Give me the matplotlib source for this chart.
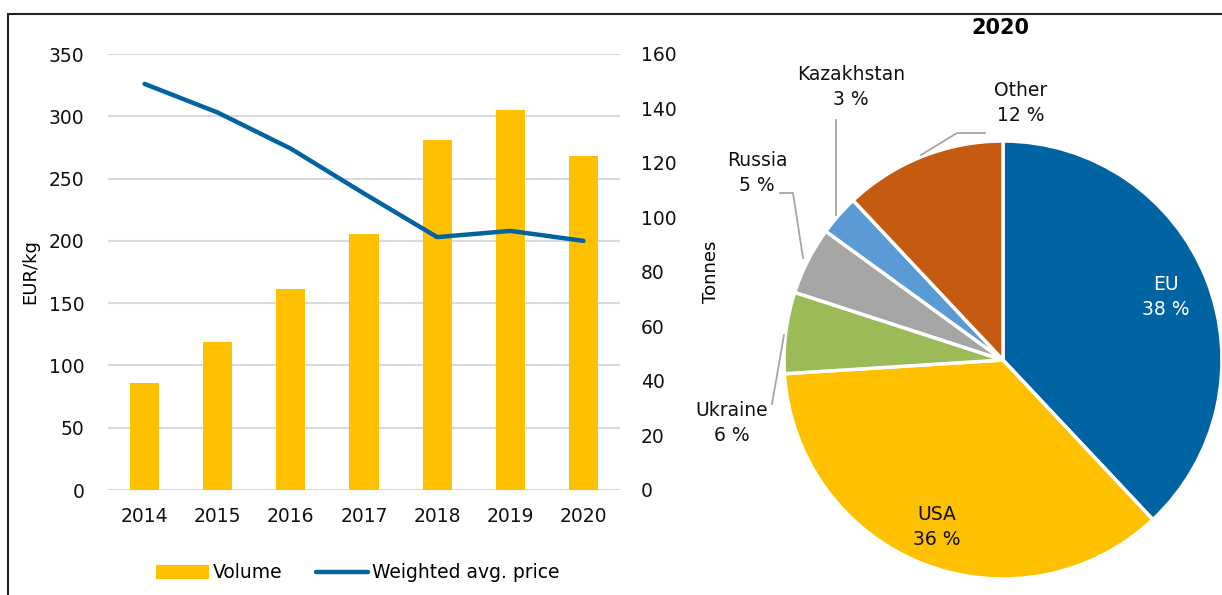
import matplotlib
matplotlib.use("Agg")
import matplotlib.pyplot as plt
from matplotlib.patches import Rectangle

plt.rcParams['font.family'] = ['DejaVu Sans']

# data
years = ['2014', '2015', '2016', '2017', '2018', '2019', '2020']
volume = [39.3, 54.3, 73.6, 93.8, 128.3, 139.6, 122.4]      # tonnes
price = [326, 303, 274, 238, 203, 208, 200]                 # EUR/kg

shares_labels = ['EU', 'USA', 'Ukraine', 'Russia', 'Kazakhstan', 'Other']
shares = [38, 36, 6, 5, 3, 12]
shares_colors = ['#0064A2', '#FFC000', '#9BBB59', '#A5A5A5', '#5B9BD5', '#C55A11']

W, H = 1222, 595
fig = plt.figure(figsize=(W / 100, H / 100), dpi=100)

# outer frame
fig.add_artist(Rectangle((8 / W, -0.05), 1.2, 1 - 14 / H + 0.05,
                         transform=fig.transFigure, fill=False,
                         edgecolor='#222222', lw=1.5))

# ---- combo chart ----
ax = fig.add_axes([108 / W, 1 - 490 / H, 512 / W, 436 / H])
ax2 = ax.twinx()
ax.set_zorder(ax2.get_zorder() + 1)
ax.patch.set_visible(False)

x = range(len(years))
ax2.bar(x, volume, width=0.4, color='#FFC000', label='Volume', zorder=2)
ax.plot(x, price, color='#0064A2', lw=3.2, solid_capstyle='round',
        label='Weighted avg. price')

ax.set_ylim(0, 350)
ax.set_yticks(range(0, 351, 50))
ax2.set_ylim(0, 160)
ax2.set_yticks(range(0, 161, 20))
ax.set_xlim(-0.5, 6.5)
ax.set_xticks(list(x))
ax.set_xticklabels(years)

# gridlines follow the left axis but sit behind the bars
for t in ax.get_yticks():
    ax2.plot([0, 1], [t, t], transform=ax.get_yaxis_transform(),
             color='#D9D9D9', lw=1.5, zorder=0)

for a in (ax, ax2):
    for s in a.spines.values():
        s.set_visible(False)
    a.tick_params(length=0, labelsize=13.5, colors='#111111')
ax.tick_params(axis='y', pad=17)
ax.tick_params(axis='x', pad=12)
ax2.tick_params(axis='y', pad=15)

ax.set_ylabel('EUR/kg', fontsize=13, labelpad=7)
ax2.set_ylabel('Tonnes', fontsize=13, labelpad=18)

h1, l1 = ax2.get_legend_handles_labels()
h2, l2 = ax.get_legend_handles_labels()
fig.legend(h1 + h2, l1 + l2, loc='center', bbox_to_anchor=(358 / W, 1 - 573 / H),
           ncol=2, frameon=False, fontsize=13.5, handlelength=2.8,
           handletextpad=0.2, columnspacing=1.8)

# ---- pie ----
R = 219
cx, cy = 1003, 360
pax = fig.add_axes([(cx - R) / W, 1 - (cy + R) / H, 2 * R / W, 2 * R / H])
pax.pie(shares, colors=shares_colors, startangle=90, counterclock=False,
        radius=1, wedgeprops=dict(edgecolor='white', linewidth=2.5))
pax.set_xlim(-1, 1)
pax.set_ylim(-1, 1)
pax.set_aspect('auto')
pax.axis('off')


def p(px, py):
    return ((px - cx) / R, (cy - py) / R)


def lab(i, px, py, color='#111111', ha='center'):
    pax.text(*p(px, py), f'{shares_labels[i]}\n{shares[i]} %', ha=ha, va='center',
             fontsize=13.5, color=color, linespacing=1.45, clip_on=False)


def leader(pts):
    xs, ys = zip(*[p(a, b) for a, b in pts])
    pax.plot(xs, ys, color='#A6A6A6', lw=1.3, clip_on=False)


lab(0, 1166, 297, color='white')
lab(1, 937, 527)
lab(2, 732, 423)
lab(3, 757, 173)
lab(4, 851, 87)
lab(5, 1021, 103)

leader([(772, 404), (784, 335)])
leader([(780, 193), (793, 193), (803, 258)])
leader([(836, 120), (836, 215)])
leader([(921, 155), (957, 133), (985, 133)])

fig.text(1000 / W, 1 - 28 / H, '2020', ha='center', va='center',
         fontsize=15, fontweight='bold')

fig.savefig('out.png', dpi=100)
